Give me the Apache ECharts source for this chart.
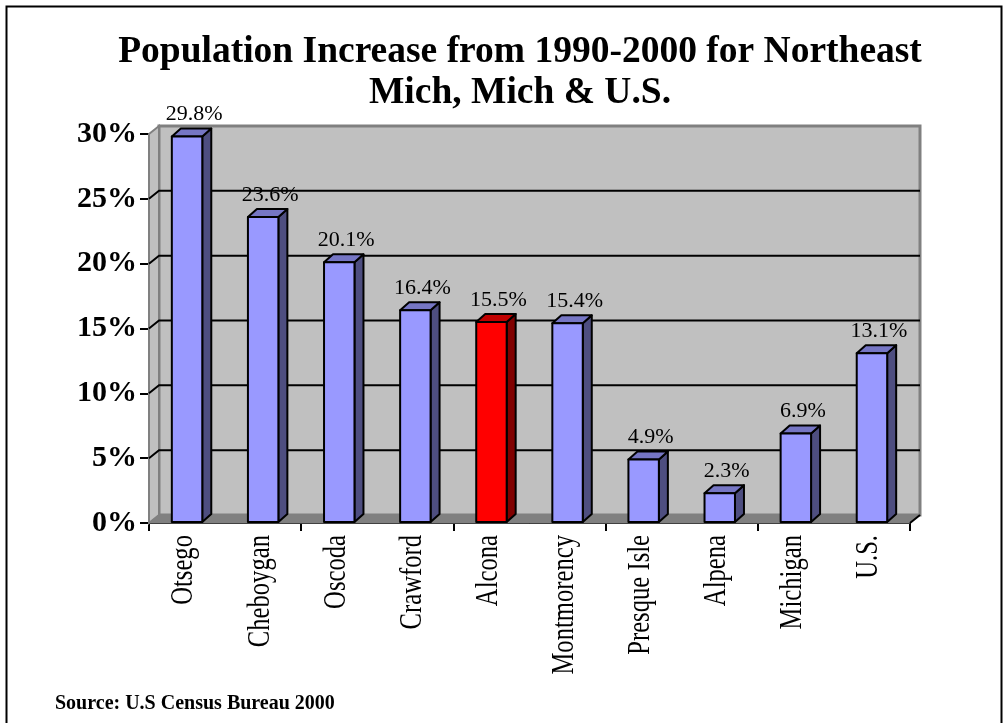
<!DOCTYPE html>
<html>
<head>
<meta charset="utf-8">
<script src="https://cdn.jsdelivr.net/npm/echarts@6/dist/echarts.min.js"></script>
<style>
  html, body { margin: 0; padding: 0; background: #ffffff; }
  #chart { width: 1003px; height: 723px; }
</style>
</head>
<body>
<div id="chart"></div>
<script>
// Population growth 1990-2000, percent
const categories = ['Otsego', 'Cheboygan', 'Oscoda', 'Crawford', 'Alcona', 'Montmorency', 'Presque Isle', 'Alpena', 'Michigan', 'U.S.'];
const growth = [29.8, 23.6, 20.1, 16.4, 15.5, 15.4, 4.9, 2.3, 6.9, 13.1];
const highlighted = 'Alcona';
const yTicks = [0, 5, 10, 15, 20, 25, 30];
const titleText = 'Population Increase from 1990-2000 for Northeast\nMich, Mich & U.S.';
const sourceText = 'Source: U.S Census Bureau 2000';

const SERIF = '"Liberation Serif", "Times New Roman", serif';
const yMin = yTicks[0];
const yMax = yTicks[yTicks.length - 1];
const yStep = yTicks[1] - yTicks[0];

// depth of the box walls and of the bars
const WDX = 10, WDY = -8;
const BDX = 9, BDY = -8;

const palette = {
  normal: { front: '#9999ff', side: '#4e4e80', top: '#7676c4' },
  marked: { front: '#ff0000', side: '#800000', top: '#c00000' }
};

function renderWalls(params, api) {
  const n = categories.length;
  const band = api.size([1, 0])[0];
  const xL = api.coord([0, yMin])[0] - band / 2;
  const xR = api.coord([n - 1, yMin])[0] + band / 2;
  const y0 = api.coord([0, yMin])[1];
  const yT = api.coord([0, yMax])[1];
  const children = [];
  // back wall
  children.push({
    type: 'polygon',
    shape: { points: [[xL + WDX, yT + WDY], [xR + WDX, yT + WDY], [xR + WDX, y0 + WDY], [xL + WDX, y0 + WDY]] },
    style: { fill: '#c0c0c0', stroke: '#808080', lineWidth: 3 }
  });
  // left side wall
  children.push({
    type: 'polygon',
    shape: { points: [[xL, yT], [xL + WDX, yT + WDY], [xL + WDX, y0 + WDY], [xL, y0]] },
    style: { fill: '#c0c0c0', stroke: '#808080', lineWidth: 2 }
  });
  // floor
  children.push({
    type: 'polygon',
    shape: { points: [[xL, y0], [xL + WDX, y0 + WDY], [xR + WDX, y0 + WDY], [xR, y0]] },
    style: { fill: '#808080', stroke: '#808080', lineWidth: 1 }
  });
  // gridlines on the back wall
  yTicks.forEach(function (v) {
    if (v === yMin || v === yMax) return;
    const y = api.coord([0, v])[1];
    children.push({
      type: 'polyline',
      shape: { points: [[xL, y], [xL + WDX, y + WDY], [xR + WDX, y + WDY]] },
      style: { stroke: '#000000', lineWidth: 2, fill: null }
    });
  });
  // right end of the floor edge
  children.push({
    type: 'line',
    shape: { x1: xR, y1: y0, x2: xR + WDX, y2: y0 + WDY },
    style: { stroke: '#000000', lineWidth: 2 }
  });
  return { type: 'group', children: children };
}

function renderBar(params, api) {
  const i = api.value(0);
  const v = api.value(1);
  const c = api.coord([i, v]);
  const base = api.coord([i, yMin]);
  const w = api.size([1, 0])[0] * 0.4;
  const xl = c[0] - w / 2, xr = c[0] + w / 2;
  const top = c[1], bot = base[1] - 1;
  const col = categories[i] === highlighted ? palette.marked : palette.normal;
  const edge = { stroke: '#000000', lineWidth: 2, lineJoin: 'round' };
  return {
    type: 'group',
    children: [
      {
        type: 'polygon',
        shape: { points: [[xr, top], [xr + BDX, top + BDY], [xr + BDX, bot + BDY], [xr, bot]] },
        style: Object.assign({ fill: col.side }, edge)
      },
      {
        type: 'polygon',
        shape: { points: [[xl, top], [xl + BDX, top + BDY], [xr + BDX, top + BDY], [xr, top]] },
        style: Object.assign({ fill: col.top }, edge)
      },
      {
        type: 'rect',
        shape: { x: xl, y: top, width: w, height: bot - top },
        style: Object.assign({ fill: col.front }, edge)
      },
      {
        type: 'text',
        x: c[0] + 7,
        y: top + BDY - 3,
        style: {
          text: v.toFixed(1) + '%',
          font: '22px ' + SERIF,
          fill: '#000000',
          align: 'center',
          verticalAlign: 'bottom'
        }
      }
    ]
  };
}

function renderCategoryLabel(params, api) {
  const i = api.value(0);
  const base = api.coord([i, yMin]);
  return {
    type: 'text',
    x: base[0] - 3,
    y: base[1] + 12,
    rotation: Math.PI / 2,
    scaleX: 0.77,
    style: {
      text: categories[i],
      font: '32px ' + SERIF,
      fill: '#000000',
      align: 'right',
      verticalAlign: 'middle'
    }
  };
}

const chart = echarts.init(document.getElementById('chart'), null, { renderer: 'canvas' });

chart.setOption({
  backgroundColor: '#ffffff',
  animation: false,
  title: {
    text: titleText,
    left: 515,
    top: 27,
    textAlign: 'center',
    textStyle: { fontFamily: SERIF, fontWeight: 'bold', fontSize: 37.5, lineHeight: 41, color: '#000000' }
  },
  grid: { left: 149, right: 93, top: 134, bottom: 200, containLabel: false },
  xAxis: {
    type: 'category',
    data: categories,
    boundaryGap: true,
    axisLine: { show: true, lineStyle: { color: '#000000', width: 2 } },
    axisTick: { show: true, length: 8, lineStyle: { color: '#000000', width: 2 } },
    axisLabel: { show: false },
    splitLine: { show: false }
  },
  yAxis: {
    type: 'value',
    min: yMin,
    max: yMax,
    interval: yStep,
    axisLine: { show: true, lineStyle: { color: '#000000', width: 2 } },
    axisTick: { show: true, length: 9, lineStyle: { color: '#000000', width: 2 } },
    axisLabel: {
      formatter: '{value}%',
      margin: 12,
      fontFamily: SERIF,
      fontWeight: 'bold',
      fontSize: 30,
      color: '#000000'
    },
    splitLine: { show: false }
  },
  graphic: [
    {
      type: 'rect',
      left: 4, top: 4,
      shape: { width: 995, height: 730 },
      style: { fill: null, stroke: '#000000', lineWidth: 2 },
      z: 100
    },
    {
      type: 'text',
      left: 55, top: 694,
      style: { text: sourceText, font: 'bold 20px ' + SERIF, fill: '#000000' }
    }
  ],
  series: [
    {
      type: 'custom',
      name: 'walls',
      z: 1,
      silent: true,
      data: [[0, 0]],
      renderItem: renderWalls
    },
    {
      type: 'custom',
      name: 'growth',
      z: 3,
      data: growth.map(function (v, i) { return [i, v]; }),
      renderItem: renderBar
    },
    {
      type: 'custom',
      name: 'labels',
      z: 3,
      silent: true,
      data: categories.map(function (c, i) { return [i, 0]; }),
      renderItem: renderCategoryLabel
    }
  ]
});
</script>
</body>
</html>
